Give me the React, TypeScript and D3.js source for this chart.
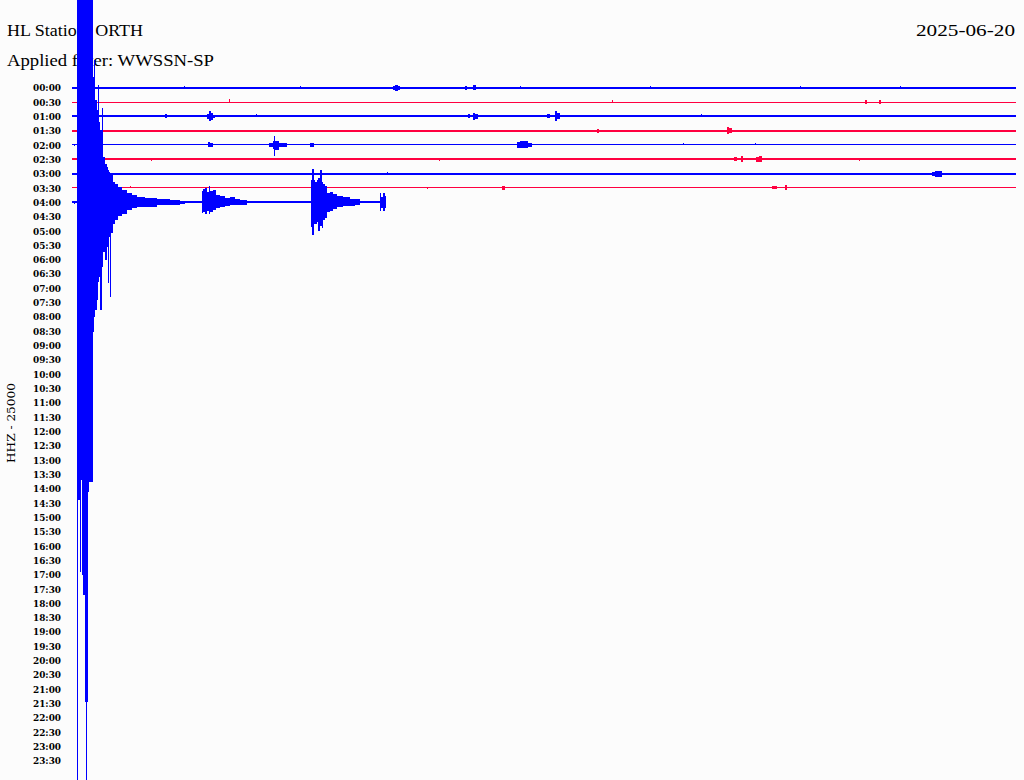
import React from "react";
import * as d3 from "d3";

const W = 1024;
const H = 780;

const stationTitle = "HL Station: ORTH";
const filterTitle = "Applied filter: WWSSN-SP";
const dateLabel = "2025-06-20";
const channelLabel = "HHZ - 25000";

const rowLabels = [
  "00:00", "00:30", "01:00", "01:30", "02:00", "02:30", "03:00", "03:30",
  "04:00", "04:30", "05:00", "05:30", "06:00", "06:30", "07:00", "07:30",
  "08:00", "08:30", "09:00", "09:30", "10:00", "10:30", "11:00", "11:30",
  "12:00", "12:30", "13:00", "13:30", "14:00", "14:30", "15:00", "15:30",
  "16:00", "16:30", "17:00", "17:30", "18:00", "18:30", "19:00", "19:30",
  "20:00", "20:30", "21:00", "21:30", "22:00", "22:30", "23:00", "23:30",
];

// seconds of data present in each plotted row (data ends at 04:09:59)
const rowEndSec = [1800, 1800, 1800, 1800, 1800, 1800, 1800, 1800, 599];
// baseline noise half-width in counts
const rowNoise = [1100, 0, 1100, 900, 0, 1000, 1100, 0, 900];

// envelopes: [second in row, up counts, down counts]
const events0000 = [
  [[612, 2000, 2500], [616, 2500, 3000], [622, 1500, 2000], [626, 0, 0]],
  [[749, 2000, 2000], [754, 0, 0]],
  [[764, 2500, 2500], [770, 0, 0]],
];
const events0030 = [
  [[1512, 2000, 2000], [1516, 0, 0]],
  [[1539, 2000, 2000], [1543, 0, 0]],
];
const events0100 = [
  [[177, 2000, 2000], [181, 0, 0]],
  [[257, 2500, 2500], [261, 5000, 5000], [265, 3000, 3500], [269, 1500, 1500], [272, 0, 0]],
  [[755, 2000, 2000], [759, 0, 0]],
  [[765, 3500, 3500], [769, 2500, 2500], [774, 0, 0]],
  [[906, 2000, 2000], [911, 0, 0]],
  [[921, 5000, 5000], [925, 3000, 3000], [930, 0, 0]],
];
const events0130 = [
  [[1001, 2000, 2000], [1004, 0, 0]],
  [[1249, 4000, 3000], [1253, 2500, 2500], [1258, 0, 0]],
];
const events0200 = [
  [[259, 2500, 2000], [263, 2000, 2000], [269, 0, 0]],
  [[376, 2000, 2000], [383, 4000, 4000], [386, 9000, 11000], [388, 4000, 5000], [394, 2000, 2000], [410, 0, 0]],
  [[454, 2000, 2000], [461, 0, 0]],
  [[849, 3000, 3000], [855, 4000, 3500], [862, 3500, 3000], [870, 2000, 2000], [877, 0, 0]],
];
const events0230 = [
  [[1262, 2000, 2000], [1268, 0, 0]],
  [[1276, 3500, 2500], [1280, 0, 0]],
  [[1304, 2500, 2500], [1310, 3500, 3000], [1316, 0, 0]],
];
const events0300 = [
  [[1640, 2000, 2000], [1645, 2500, 3000], [1659, 0, 0]],
];
const events0330 = [
  [[820, 2000, 2000], [826, 0, 0]],
  [[1335, 1500, 1000], [1344, 0, 0]],
  [[1360, 2500, 2500], [1364, 0, 0]],
];
const quake0400 = [
  [9, 260000, 580000], [10.5, 260000, 273000], [12, 260000, 298000],
  [15.3, 260000, 370000], [17.2, 260000, 278000], [19.6, 260000, 373000],
  [21.5, 260000, 393000], [24.8, 260000, 500000], [26.7, 260000, 580000],
  [28, 260000, 500000], [29.9, 260000, 290000], [32.4, 260000, 280000],
  [36.2, 260000, 280000], [40.6, 125000, 130000], [42.9, 142000, 115000],
  [44.8, 102000, 108000], [47.1, 92000, 98000], [50.5, 117000, 80000],
  [52.4, 80000, 75000], [53.4, 72000, 108000], [56.6, 94000, 65000],
  [59.1, 45000, 50000], [62.9, 38000, 58000], [66.2, 35000, 45000],
  [68.6, 32000, 81000], [70.6, 30000, 35000], [72.5, 29000, 95000],
  [74.4, 28000, 31000], [78.2, 20000, 22000], [82, 18000, 18000],
  [87.7, 15000, 14000], [95.3, 12000, 12000], [104.9, 9000, 8000],
  [114.4, 7000, 6000], [123.9, 5000, 5000], [139.2, 4000, 4500],
  [162.1, 3000, 3000], [186.9, 2500, 2500], [206.1, 1500, 1500], [215, 0, 0],
];
const after1_0400 = [
  [247, 11000, 11000], [250, 13000, 10000], [254, 14000, 12000], [257, 10000, 9000],
  [261, 16000, 12000], [264, 11000, 10000], [268, 12000, 8000], [274, 7000, 6000],
  [282, 6000, 5000], [292, 4000, 4000], [301, 5000, 3000], [311, 3000, 3000],
  [320, 2500, 2500], [333, 0, 0],
];
const after2_0400 = [
  [455, 22000, 25000], [458, 33000, 33000], [461, 22000, 22000], [463, 20000, 22000],
  [467, 22000, 20000], [470, 24000, 29000], [473, 32000, 24000], [476, 20000, 26000],
  [479, 18000, 18000], [482, 16000, 16000], [486, 9000, 10000], [492, 10000, 9000],
  [498, 8000, 7000], [505, 6000, 5000], [517, 5000, 4000], [530, 3500, 3500],
  [540, 3000, 3000], [549, 0, 0],
];
const after3_0400 = [
  [587, 9000, 9000], [590, 5000, 6000], [593, 9000, 9000], [596, 6000, 6000], [599, 0, 0],
];
const events0400 = [quake0400, after1_0400, after2_0400, after3_0400];

// single-sample spikes: [second, up, down]
const ticks0000 = [[214, 2000, 0], [435, 2000, 0], [854, 2000, 0], [1102, 2000, 0], [1388, 2000, 0], [1579, 2000, 0]];
const ticks0030 = [[299, 3000, 0], [1030, 2000, 0]];
const ticks0100 = [[350, 2000, 0], [1200, 2000, 0]];
const ticks0130 = [[229, 0, 1500], [551, 0, 1500], [969, 0, 1500], [1011, 0, 1500]];
const ticks0200 = [[4, 1000, 1000], [1165, 1500, 0], [1302, 1500, 0]];
const ticks0230 = [[150, 0, 1500], [420, 1500, 0], [700, 0, 1500], [1100, 1500, 0], [1500, 0, 1500]];
const ticks0300 = [[600, 2000, 0]];
const ticks0330 = [[111, 1500, 0], [336, 1000, 0], [408, 1000, 0], [521, 1000, 0], [584, 1000, 0], [677, 0, 1000], [698, 1000, 0], [1503, 1000, 0], [1752, 1000, 0]];
const ticks0400 = [[3, 0, 2000]];

const rowEvents = [events0000, events0030, events0100, events0130, events0200, events0230, events0300, events0330, events0400];
const rowTicks = [ticks0000, ticks0030, ticks0100, ticks0130, ticks0200, ticks0230, ticks0300, ticks0330, ticks0400];

const BLUE = "#0000ff";
const RED = "#ff0040";

export default function App() {
  const x = d3.scaleLinear().domain([0, 1800]).range([72, 1016]);
  const y = d3.scalePoint<string>().domain(rowLabels).range([87.7, 87.7 + 47 * 14.32]);
  const amp = d3.scaleLinear().domain([0, 25000]).range([0, 25]);

  const rows = rowEndSec.map((end, i) => {
    const base = y(rowLabels[i]) as number;
    const color = i % 2 === 0 ? BLUE : RED;
    const half = Math.max(0.5, amp(rowNoise[i]));
    const area = d3
      .area<number[]>()
      .x((d) => x(d[0]))
      .y0((d) => base + Math.max(half, amp(d[2])))
      .y1((d) => base - Math.max(half, amp(d[1])))
      .curve(d3.curveStepAfter);
    return (
      <g key={i} fill={color} shapeRendering="crispEdges">
        <rect x={x(0)} y={base - half} width={x(end) - x(0)} height={half * 2} />
        {rowTicks[i].map((t, j) => (
          <rect
            key={"t" + j}
            x={x(t[0])}
            y={base - Math.max(half, amp(t[1]))}
            width={1}
            height={Math.max(half, amp(t[1])) + Math.max(half, amp(t[2]))}
          />
        ))}
        {rowEvents[i].map((ev, j) => (
          <path key={"e" + j} d={area(ev as number[][]) || ""} />
        ))}
      </g>
    );
  });

  return (
    <svg
      width={W}
      height={H}
      style={{ position: "absolute", left: 0, top: 0, display: "block" }}
      xmlns="http://www.w3.org/2000/svg"
    >
      <rect x={0} y={0} width={W} height={H} fill="#fcfcfc" />
      <g fontFamily="'Liberation Serif', 'DejaVu Serif', serif" fill="#000">
        <text x={7} y={35.7} fontSize={17} textLength={136} lengthAdjust="spacingAndGlyphs">
          {stationTitle}
        </text>
        <text x={7} y={66.3} fontSize={17} textLength={207} lengthAdjust="spacingAndGlyphs">
          {filterTitle}
        </text>
        <text x={1015} y={36} fontSize={17} textAnchor="end" textLength={99} lengthAdjust="spacingAndGlyphs">
          {dateLabel}
        </text>
      </g>
      <g fontFamily="'DejaVu Serif', serif" fontWeight="bold" fontSize={10} fill="#000">
        {rowLabels.map((lab) => (
          <text
            key={lab}
            x={61}
            y={(y(lab) as number) + 3.6}
            textAnchor="end"
            textLength={28}
            lengthAdjust="spacingAndGlyphs"
          >
            {lab}
          </text>
        ))}
        <text
          transform="translate(15,423) rotate(-90)"
          textAnchor="middle"
          fontSize={10.5}
          fontWeight="normal"
          textLength={80}
          lengthAdjust="spacingAndGlyphs"
        >
          {channelLabel}
        </text>
      </g>
      {rows}
    </svg>
  );
}
